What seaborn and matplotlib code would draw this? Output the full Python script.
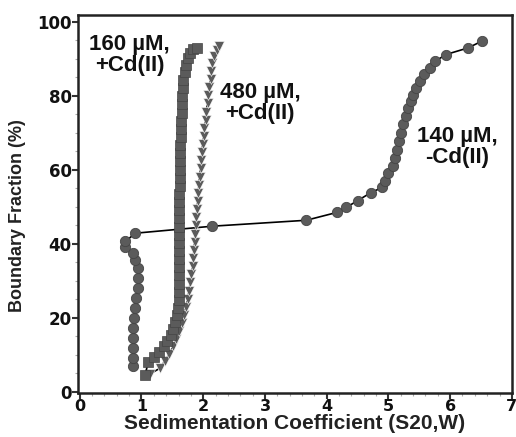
import numpy as np
import pandas as pd
import matplotlib
matplotlib.use("Agg")
import matplotlib.pyplot as plt
import seaborn as sns
from matplotlib.ticker import MultipleLocator

# 140 uM, -Cd(II)  (circles)
circ_x = [0.86, 0.86, 0.86, 0.87, 0.87, 0.88, 0.89, 0.91, 0.94, 0.95, 0.94, 0.90, 0.86,
          0.74, 0.74, 0.90, 2.15, 3.67, 4.16, 4.32, 4.50, 4.71, 4.90, 4.95, 5.00, 5.07,
          5.10, 5.14, 5.17, 5.21, 5.24, 5.28, 5.32, 5.36, 5.40, 5.45, 5.51, 5.58, 5.68,
          5.76, 5.93, 6.29, 6.51]
circ_y = [6.8, 9.0, 11.7, 14.4, 17.1, 19.8, 22.5, 25.3, 28.0, 30.7, 33.4, 35.6, 37.4,
          39.0, 40.6, 42.8, 44.7, 46.3, 48.4, 49.8, 51.6, 53.7, 55.2, 57.0, 59.0, 60.9,
          63.1, 65.4, 67.7, 69.9, 72.2, 74.4, 76.7, 78.5, 80.3, 82.1, 83.9, 85.9, 87.5,
          89.3, 91.1, 92.9, 94.7]

# 160 uM, +Cd(II)  (squares)
sq_x = [1.06, 1.11, 1.20, 1.29, 1.36, 1.42, 1.47, 1.51, 1.55, 1.57, 1.59, 1.60, 1.60,
        1.61, 1.61, 1.61, 1.61, 1.61, 1.61, 1.61, 1.61, 1.61, 1.61, 1.61, 1.61, 1.62,
        1.62, 1.62, 1.63, 1.63, 1.63, 1.64, 1.64, 1.64, 1.65, 1.65, 1.66, 1.67, 1.68,
        1.70, 1.72, 1.75, 1.79, 1.84, 1.90]
sq_y = [4.6, 8.0, 9.4, 10.6, 12.2, 13.6, 15.3, 17.0, 18.9, 20.8, 22.7, 24.8, 27.0,
        29.2, 31.4, 33.6, 35.8, 38.0, 40.2, 42.4, 44.6, 46.8, 49.0, 51.2, 53.4, 55.6,
        57.8, 60.0, 62.2, 64.4, 66.6, 68.8, 71.0, 73.2, 75.4, 77.6, 79.8, 82.0, 84.2,
        86.4, 88.4, 90.2, 91.6, 92.6, 92.8]

# 480 uM, +Cd(II)  (triangles)
tri_x = [1.14, 1.30, 1.38, 1.45, 1.51, 1.56, 1.61, 1.65, 1.69, 1.72, 1.75, 1.77, 1.79,
         1.81, 1.83, 1.84, 1.85, 1.86, 1.87, 1.88, 1.89, 1.90, 1.91, 1.92, 1.93, 1.94,
         1.96, 1.97, 1.98, 1.99, 2.01, 2.02, 2.04, 2.05, 2.07, 2.08, 2.10, 2.12, 2.13,
         2.15, 2.18, 2.22, 2.26]
tri_y = [4.8, 6.3, 8.3, 10.2, 12.2, 14.3, 16.4, 18.5, 20.7, 22.9, 25.1, 27.3, 29.5,
         31.7, 33.9, 36.1, 38.3, 40.5, 42.7, 44.9, 47.1, 49.3, 51.5, 53.7, 55.9, 58.1,
         60.3, 62.5, 64.7, 66.9, 69.1, 71.3, 73.5, 75.7, 77.9, 80.1, 82.3, 84.5, 86.7,
         88.7, 90.6, 92.2, 93.3]

labels = ["160 µM,\n+Cd(II)", "480 µM,\n+Cd(II)", "140 µM,\n-Cd(II)"]
x_ticks = [0, 1, 2, 3, 4, 5, 6, 7]
y_ticks = [0, 20, 40, 60, 80, 100]

sns.set_theme(style="ticks")
plt.rcParams['font.family'] = ['DejaVu Sans']

fig = plt.figure(figsize=(5.16, 4.37), dpi=100)
ax = fig.add_axes([0.151, 0.1007, 0.841, 0.865])

mc = "#5b5b5b"
ec = "#454545"
sns.lineplot(x=circ_x, y=circ_y, sort=False, estimator=None, ax=ax, color="black",
             linewidth=1.2, marker="o", markersize=7.4, markerfacecolor=mc,
             markeredgecolor=ec, markeredgewidth=0.6)
sns.lineplot(x=tri_x, y=tri_y, sort=False, estimator=None, ax=ax, color="black",
             linewidth=1.2, marker="v", markersize=7.5, markerfacecolor=mc,
             markeredgecolor="white", markeredgewidth=0.4)
sns.lineplot(x=sq_x, y=sq_y, sort=False, estimator=None, ax=ax, color="black",
             linewidth=1.2, marker="s", markersize=6.6, markerfacecolor=mc,
             markeredgecolor=ec, markeredgewidth=0.5)

ax.set_xlim(-0.03, 7.0)
ax.set_ylim(-0.4, 101.8)
ax.set_xticks(x_ticks)
ax.set_yticks(y_ticks)
ax.xaxis.set_minor_locator(MultipleLocator(0.2))
ax.yaxis.set_minor_locator(MultipleLocator(5))
ax.tick_params(axis="both", which="major", length=4, width=1.5, direction="out",
               labelsize=12, color="#333333", pad=0.5, labelcolor="#111111")
ax.tick_params(axis="x", which="major", labelsize=11.5, pad=0)
ax.tick_params(axis="both", which="minor", length=2.5, width=0.8, direction="out",
               color="#aaaaaa")
for lab in ax.get_xticklabels() + ax.get_yticklabels():
    lab.set_fontweight("bold")
for sp in ax.spines.values():
    sp.set_linewidth(1.8)
    sp.set_color("#222222")

ax.set_xlabel("Sedimentation Coefficient (S20,W)", fontsize=15, fontweight="bold",
              family="Liberation Sans", labelpad=0.5, color="#222222")
ax.set_ylabel("Boundary Fraction (%)", fontsize=13, fontweight="bold",
              family="Liberation Sans", color="#222222")
ax.yaxis.set_label_coords(-0.12, 0.47)

txt_kw = dict(fontsize=16, fontweight="bold", family="Liberation Sans",
              ha="center", va="center", linespacing=1.05, color="#111111")
ax.text(0.81, 91.0, labels[0], **txt_kw)
ax.text(2.92, 78.0, labels[1], **txt_kw)
ax.text(6.11, 66.1, labels[2], **txt_kw)

fig.savefig("out.png", dpi=100)
